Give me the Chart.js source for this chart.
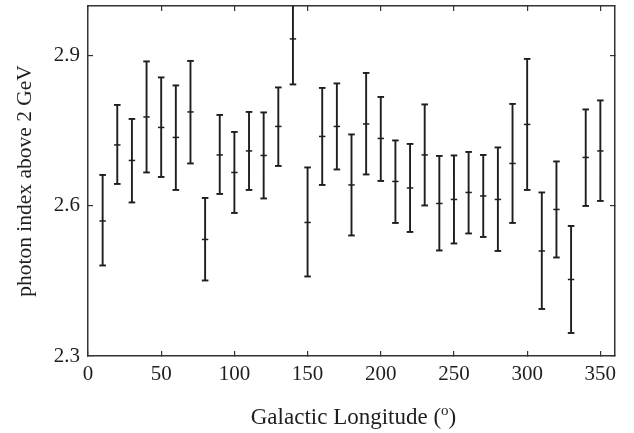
<!DOCTYPE html>
<html>
<head>
<meta charset="utf-8">
<script src="https://cdn.jsdelivr.net/npm/chart.js@4/dist/chart.umd.min.js"></script>
<style>
  html, body { margin: 0; padding: 0; background: #fff; }
  #wrap { width: 634px; height: 433px; }
</style>
</head>
<body>
<div id="wrap"><canvas id="c" width="634" height="433"></canvas></div>
<script>
// Galactic longitude bins (degrees)
const longitude = [10, 20, 30, 40, 50, 60, 70, 80, 90, 100, 110, 120, 130, 140, 150, 160, 170, 180,
                   190, 200, 210, 220, 230, 240, 250, 260, 270, 280, 290, 300, 310, 320, 330, 340, 350];
// Photon index above 2 GeV
const photonIndex = [2.570, 2.722, 2.691, 2.778, 2.757, 2.737, 2.788, 2.533, 2.702, 2.667, 2.710, 2.701,
                     2.759, 2.934, 2.567, 2.739, 2.759, 2.642, 2.764, 2.735, 2.649, 2.636, 2.702, 2.605,
                     2.613, 2.627, 2.620, 2.613, 2.685, 2.763, 2.510, 2.593, 2.453, 2.697, 2.710];
// Upper and lower ends of the error bars
const upperBound = [2.662, 2.802, 2.774, 2.889, 2.857, 2.841, 2.890, 2.616, 2.782, 2.748, 2.788, 2.787,
                    2.837, 3.025, 2.677, 2.836, 2.845, 2.743, 2.866, 2.818, 2.731, 2.724, 2.803, 2.700,
                    2.701, 2.708, 2.702, 2.717, 2.804, 2.894, 2.627, 2.689, 2.560, 2.793, 2.811];
const lowerBound = [2.481, 2.644, 2.607, 2.667, 2.658, 2.632, 2.685, 2.451, 2.624, 2.586, 2.632, 2.615,
                    2.680, 2.843, 2.459, 2.642, 2.673, 2.541, 2.663, 2.650, 2.566, 2.548, 2.601, 2.511,
                    2.525, 2.545, 2.538, 2.510, 2.566, 2.632, 2.394, 2.497, 2.346, 2.600, 2.610];
// Axis ticks
const xTicks = [0, 50, 100, 150, 200, 250, 300, 350];
const yTicks = [2.3, 2.6, 2.9];

const ink = '#1e1e1e';
const axisInk = '#333333';
const serif = '"Liberation Serif", "Times New Roman", serif';

// Vertical error-bar stems: pairs of points separated by null gaps
const stems = [];
longitude.forEach((l, i) => {
  stems.push({ x: l, y: lowerBound[i] });
  stems.push({ x: l, y: upperBound[i] });
  stems.push({ x: l, y: null });
});
const caps = [];
longitude.forEach((l, i) => {
  caps.push({ x: l, y: upperBound[i] });
  caps.push({ x: l, y: lowerBound[i] });
});
const centres = longitude.map((l, i) => ({ x: l, y: photonIndex[i] }));

const setX = s => { s.ticks = xTicks.map(v => ({ value: v })); };
const setY = s => { s.ticks = yTicks.map(v => ({ value: v })); };

// Fixed axis thickness, no extra label overhang padding
const fitH = h => s => { s.height = h; s.paddingLeft = 0; s.paddingRight = 0; };
const fitW = w => s => { s.width = w; s.paddingTop = 0; s.paddingBottom = 0; };

const gridOpts = {
  drawOnChartArea: false,
  drawTicks: true,
  tickLength: -5,
  color: axisInk,
  lineWidth: 1.2
};
const borderOpts = { display: true, color: axisInk, width: 1.5 };

// Bottom title with a superscript degree "o"
const xTitlePlugin = {
  id: 'xTitle',
  afterDraw(chart) {
    const { ctx, chartArea } = chart;
    const cx = (chartArea.left + chartArea.right) / 2 + 2;
    const base = 424;
    ctx.save();
    ctx.fillStyle = ink;
    ctx.textBaseline = 'alphabetic';
    ctx.textAlign = 'left';
    const mainFont = '23px ' + serif;
    const supFont = '15px ' + serif;
    const a = 'Galactic Longitude (';
    const b = 'o';
    const c = ')';
    ctx.font = mainFont;
    const wa = ctx.measureText(a).width;
    const wc = ctx.measureText(c).width;
    ctx.font = supFont;
    const wb = ctx.measureText(b).width;
    let x = cx - (wa + wb + wc) / 2;
    ctx.font = mainFont;
    ctx.fillText(a, x, base);
    x += wa;
    ctx.font = supFont;
    ctx.fillText(b, x, base - 9);
    x += wb;
    ctx.font = mainFont;
    ctx.fillText(c, x, base);
    ctx.restore();
  }
};

new Chart(document.getElementById('c'), {
  type: 'scatter',
  data: {
    datasets: [
      {
        data: stems,
        showLine: true,
        spanGaps: false,
        borderColor: ink,
        borderWidth: 1.9,
        pointRadius: 0,
        fill: false
      },
      {
        data: caps,
        pointStyle: 'line',
        pointRadius: 3.3,
        borderColor: ink,
        borderWidth: 1.9,
        showLine: false
      },
      {
        data: centres,
        pointStyle: 'line',
        pointRadius: 3.2,
        borderColor: ink,
        borderWidth: 1.5,
        showLine: false
      }
    ]
  },
  options: {
    responsive: false,
    animation: false,
    events: [],
    layout: { padding: 0 },
    plugins: { legend: { display: false }, tooltip: { enabled: false } },
    scales: {
      x: {
        type: 'linear',
        position: 'bottom',
        min: 0, max: 360,
        afterBuildTicks: setX,
        afterFit: fitH(77),
        grid: gridOpts,
        border: borderOpts,
        ticks: { color: ink, font: { family: serif, size: 21 }, padding: 11, maxRotation: 0 }
      },
      x2: {
        type: 'linear',
        position: 'top',
        min: 0, max: 360,
        afterBuildTicks: setX,
        afterFit: fitH(4),
        grid: gridOpts,
        border: borderOpts,
        ticks: { display: false }
      },
      y: {
        type: 'linear',
        position: 'left',
        min: 2.3, max: 3.0,
        afterBuildTicks: setY,
        afterFit: fitW(88),
        grid: gridOpts,
        border: borderOpts,
        ticks: { color: ink, font: { family: serif, size: 21 }, padding: 13,
                 callback: v => v.toFixed(1) },
        title: {
          display: true,
          text: 'photon index above 2 GeV',
          color: ink,
          font: { family: serif, size: 21.5 },
          padding: { top: 12, bottom: 0 }
        }
      },
      y2: {
        type: 'linear',
        position: 'right',
        min: 2.3, max: 3.0,
        afterBuildTicks: setY,
        afterFit: fitW(19),
        grid: gridOpts,
        border: borderOpts,
        ticks: { display: false }
      }
    }
  },
  plugins: [xTitlePlugin]
});
</script>
</body>
</html>
